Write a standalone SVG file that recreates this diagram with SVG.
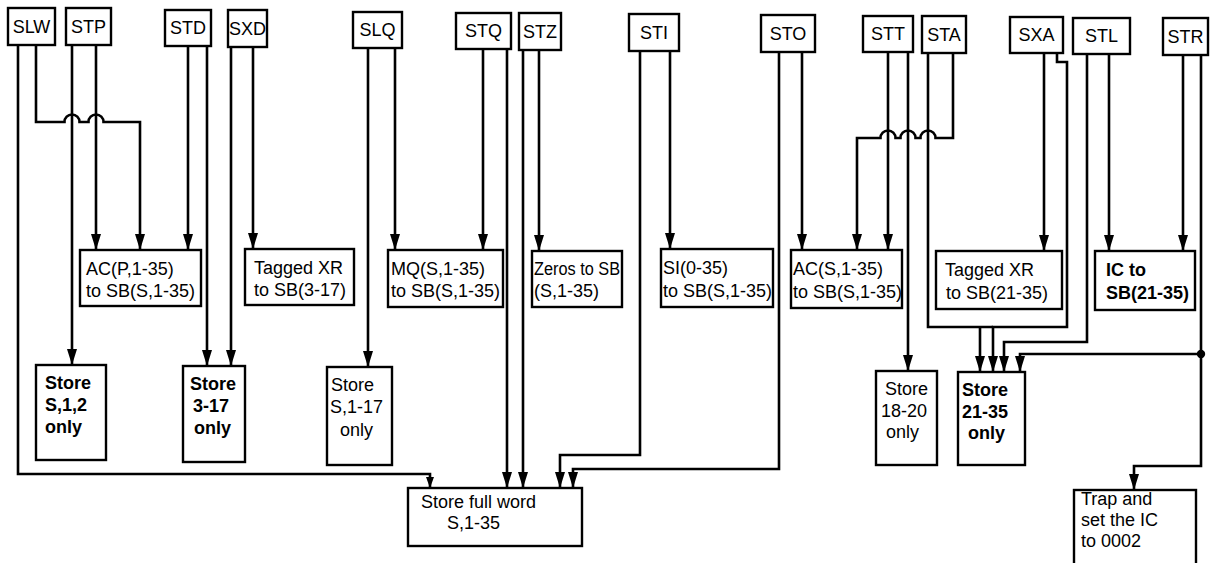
<svg xmlns="http://www.w3.org/2000/svg" width="1210" height="563" viewBox="0 0 1210 563">
<style>
.box{fill:#fff;stroke:#000;stroke-width:2.4}
.lbl{font-family:"Liberation Sans",Arial,sans-serif;font-size:18px;fill:#000;text-anchor:middle}
.t{font-family:"Liberation Sans",Arial,sans-serif;font-size:18px;fill:#000}
.b{font-weight:bold}
.c{fill:none;stroke:#000;stroke-width:2.6}
.a{marker-end:url(#arr)}
.s{marker-end:url(#arrs)}
</style>
<defs>
<marker id="arr" markerUnits="userSpaceOnUse" viewBox="0 0 16 10" refX="16" refY="5" markerWidth="16" markerHeight="10" orient="auto"><path d="M0,0 L16,5 L0,10 z" fill="#000"/></marker>
<marker id="arrs" markerUnits="userSpaceOnUse" viewBox="0 0 11 8" refX="11" refY="4" markerWidth="11" markerHeight="8" orient="auto"><path d="M0,0 L11,4 L0,8 z" fill="#000"/></marker>
</defs>
<rect width="1210" height="563" fill="#fff"/>
<g id="connectors">
<path class="c s" d="M18,45 V474 H430 V488"/>
<path class="c a" d="M36,45 V122 H64.5 a7.5,7.5 0 0 1 15,0 H88.5 a7.5,7.5 0 0 1 15,0 H140 V250"/>
<path class="c a" d="M72,45 V365"/>
<path class="c a" d="M96,45 V250"/>
<path class="c a" d="M188,46 V250"/>
<path class="c a" d="M207,46 V366"/>
<path class="c a" d="M231,47 V366"/>
<path class="c a" d="M253,47 V249"/>
<path class="c a" d="M368,48 V367"/>
<path class="c a" d="M395,48 V250"/>
<path class="c a" d="M483,49 V250"/>
<path class="c a" d="M507,49 V488"/>
<path class="c a" d="M523,50 V488"/>
<path class="c a" d="M539,50 V251"/>
<path class="c a" d="M640,51 V455 H560 V488"/>
<path class="c a" d="M670,51 V249"/>
<path class="c a" d="M779,52 V469 H573 V488"/>
<path class="c a" d="M802,52 V250"/>
<path class="c a" d="M888,52 V250"/>
<path class="c a" d="M908,52 V371"/>
<path class="c a" d="M928,53 V327 H993 M980,327 V372"/>
<path class="c a" d="M953,53 V138 H935.5 a7.5,7.5 0 0 0 -15,0 H915.5 a7.5,7.5 0 0 0 -15,0 H895.5 a7.5,7.5 0 0 0 -15,0 H857 V250"/>
<path class="c a" d="M1044,53 V251"/>
<path class="c a" d="M1057,53 V62 H1067 V327 H993 V372"/>
<path class="c a" d="M1087,54 V342 H1004 V372"/>
<path class="c a" d="M1109,54 V251"/>
<path class="c a" d="M1183,55 V251"/>
<path class="c a" d="M1201,55 V354 H1020 V372"/>
<path class="c a" d="M1201,354 V466 H1134 V490"/>
<circle cx="1201" cy="354" r="4.2" fill="#000"/>
</g>
<g id="n-SLW"><rect class="box" x="8" y="8" width="47" height="37"/><text class="lbl" x="31.5" y="33">SLW</text></g>
<g id="n-STP"><rect class="box" x="66" y="8" width="45" height="37"/><text class="lbl" x="88.5" y="33">STP</text></g>
<g id="n-STD"><rect class="box" x="165" y="10" width="46" height="36"/><text class="lbl" x="188" y="34">STD</text></g>
<g id="n-SXD"><rect class="box" x="228" y="10" width="39" height="37"/><text class="lbl" x="247.5" y="34.5">SXD</text></g>
<g id="n-SLQ"><rect class="box" x="353" y="12" width="49" height="36"/><text class="lbl" x="377.5" y="36">SLQ</text></g>
<g id="n-STQ"><rect class="box" x="456" y="13" width="55" height="36"/><text class="lbl" x="483.5" y="37">STQ</text></g>
<g id="n-STZ"><rect class="box" x="519" y="13" width="42" height="37"/><text class="lbl" x="540" y="37.5">STZ</text></g>
<g id="n-STI"><rect class="box" x="629" y="14" width="50" height="37"/><text class="lbl" x="654" y="38.5">STI</text></g>
<g id="n-STO"><rect class="box" x="761" y="15" width="54" height="37"/><text class="lbl" x="788" y="39.5">STO</text></g>
<g id="n-STT"><rect class="box" x="863" y="16" width="50" height="36"/><text class="lbl" x="888" y="40">STT</text></g>
<g id="n-STA"><rect class="box" x="922" y="16" width="44" height="37"/><text class="lbl" x="944" y="40.5">STA</text></g>
<g id="n-SXA"><rect class="box" x="1010" y="17" width="53" height="36"/><text class="lbl" x="1036.5" y="41">SXA</text></g>
<g id="n-STL"><rect class="box" x="1073" y="18" width="57" height="36"/><text class="lbl" x="1101.5" y="42">STL</text></g>
<g id="n-STR"><rect class="box" x="1163" y="18" width="45" height="37"/><text class="lbl" x="1185.5" y="42.5">STR</text></g>

<g id="n-acp"><rect class="box" x="80" y="250" width="121" height="56"/><text class="t" x="86" y="275">AC(P,1-35)</text><text class="t" x="86" y="297">to SB(S,1-35)</text></g>
<g id="n-xr317"><rect class="box" x="245" y="249" width="109" height="56"/><text class="t" x="254" y="274">Tagged XR</text><text class="t" x="254" y="296">to SB(3-17)</text></g>
<g id="n-mq"><rect class="box" x="388" y="250" width="115" height="57"/><text class="t" x="391" y="275">MQ(S,1-35)</text><text class="t" x="391" y="297">to SB(S,1-35)</text></g>
<g id="n-zeros"><rect class="box" x="532" y="251" width="90" height="56"/><text class="t" x="534" y="275" textLength="86" lengthAdjust="spacingAndGlyphs">Zeros to SB</text><text class="t" x="534" y="297">(S,1-35)</text></g>
<g id="n-si"><rect class="box" x="661" y="249" width="112" height="58"/><text class="t" x="663" y="274">SI(0-35)</text><text class="t" x="663" y="297">to SB(S,1-35)</text></g>
<g id="n-acs"><rect class="box" x="791" y="250" width="111" height="58"/><text class="t" x="793" y="275">AC(S,1-35)</text><text class="t" x="793" y="298">to SB(S,1-35)</text></g>
<g id="n-xr2135"><rect class="box" x="936" y="251" width="126" height="58"/><text class="t" x="945" y="276">Tagged XR</text><text class="t" x="946" y="299">to SB(21-35)</text></g>
<g id="n-ic"><rect class="box" x="1095" y="251" width="100" height="59"/><text class="t b" x="1106" y="276">IC to</text><text class="t b" x="1106" y="299">SB(21-35)</text></g>

<g id="n-s12"><rect class="box" x="36" y="365" width="70" height="95"/><text class="t b" x="45" y="389">Store</text><text class="t b" x="45" y="411">S,1,2</text><text class="t b" x="45" y="433">only</text></g>
<g id="n-s317"><rect class="box" x="183" y="366" width="62" height="96"/><text class="t b" x="190" y="390">Store</text><text class="t b" x="193" y="412">3-17</text><text class="t b" x="194" y="434">only</text></g>
<g id="n-s117"><rect class="box" x="327" y="367" width="65" height="98"/><text class="t" x="331" y="391">Store</text><text class="t" x="330" y="413">S,1-17</text><text class="t" x="340" y="436">only</text></g>
<g id="n-s1820"><rect class="box" x="876" y="371" width="61" height="94"/><text class="t" x="885" y="395">Store</text><text class="t" x="881" y="417">18-20</text><text class="t" x="886" y="438">only</text></g>
<g id="n-s2135"><rect class="box" x="958" y="372" width="67" height="93"/><text class="t b" x="962" y="396">Store</text><text class="t b" x="962" y="418">21-35</text><text class="t b" x="968" y="439">only</text></g>
<g id="n-full"><rect class="box" x="408" y="488" width="174" height="58"/><text class="t" x="421" y="508">Store full word</text><text class="t" x="447" y="529">S,1-35</text></g>
<g id="n-trap"><rect class="box" x="1074" y="490" width="122" height="85"/><text class="t" x="1081" y="505">Trap and</text><text class="t" x="1081" y="526">set the IC</text><text class="t" x="1081" y="547">to 0002</text></g>
</svg>
